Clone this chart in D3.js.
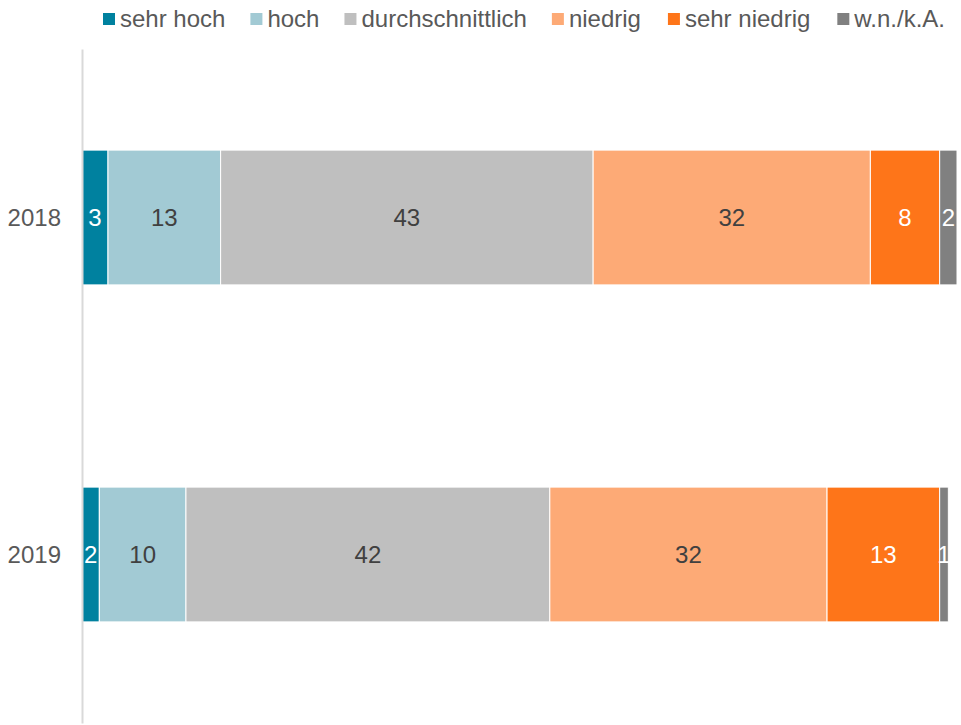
<!DOCTYPE html>
<html>
<head>
<meta charset="utf-8">
<script src="https://cdn.jsdelivr.net/npm/d3@7"></script>
<style>
html,body{margin:0;padding:0;background:#fff;}
svg{display:block;font-family:"Liberation Sans",Arial,sans-serif;}
</style>
</head>
<body>
<svg id="chart" width="961" height="725"></svg>
<script>
const years = ["2018", "2019"];
const seriesNames = ["sehr hoch", "hoch", "durchschnittlich", "niedrig", "sehr niedrig", "w.n./k.A."];
const sehrHoch = [3, 2];
const hoch = [13, 10];
const durchschnittlich = [43, 42];
const niedrig = [32, 32];
const sehrNiedrig = [8, 13];
const wnka = [2, 1];
const colors = ["#00819f", "#a2cad4", "#bfbfbf", "#fdaa76", "#fe7519", "#808080"];
const labelColors = ["#ffffff", "#404040", "#404040", "#404040", "#ffffff", "#ffffff"];

const seriesValues = [sehrHoch, hoch, durchschnittlich, niedrig, sehrNiedrig, wnka];
const rows = years.map((y, i) => {
  const r = {year: y};
  seriesNames.forEach((s, j) => r[s] = seriesValues[j][i]);
  return r;
});

const svg = d3.select("#chart");
const fontSize = 24;

const stack = d3.stack().keys(seriesNames);
const stacked = stack(rows);
const maxTotal = d3.max(rows, r => d3.sum(seriesNames, s => r[s]));

const x = d3.scaleLinear().domain([0, maxTotal]).range([82, 957]);
const y = d3.scaleBand().domain(years).range([49, 723]).paddingInner(0.6).paddingOuter(0.3);

// bars
const g = svg.append("g");
stacked.forEach((layer, j) => {
  const lg = g.append("g");
  lg.selectAll("rect").data(layer).join("rect")
    .attr("x", d => x(d[0]))
    .attr("y", d => y(d.data.year))
    .attr("width", d => x(d[1]) - x(d[0]))
    .attr("height", y.bandwidth())
    .attr("fill", colors[j])
    .attr("stroke", "#ffffff")
    .attr("stroke-width", 1);
  lg.selectAll("text").data(layer).join("text")
    .attr("x", d => (x(d[0]) + x(d[1])) / 2)
    .attr("y", d => y(d.data.year) + y.bandwidth() / 2)
    .attr("dy", "0.36em")
    .attr("text-anchor", "middle")
    .attr("font-size", fontSize)
    .attr("fill", labelColors[j])
    .text(d => d.data[seriesNames[j]]);
});

// axis
const axis = svg.append("g")
  .attr("transform", "translate(82,0)")
  .call(d3.axisLeft(y).tickSize(0).tickPadding(21).tickSizeOuter(0));
axis.select(".domain").attr("stroke", "#d9d9d9").attr("stroke-width", 2);
axis.selectAll(".tick text")
  .attr("font-size", fontSize)
  .attr("font-family", "'Liberation Sans', Arial, sans-serif")
  .attr("fill", "#595959")
  .attr("dy", "0.37em");

// legend
const legend = svg.append("g");
let lx = 103;
seriesNames.forEach((s, j) => {
  const item = legend.append("g").attr("transform", `translate(${lx},0)`);
  item.append("rect").attr("x", 0).attr("y", 13).attr("width", 12).attr("height", 12).attr("fill", colors[j]);
  const t = item.append("text").attr("x", 17).attr("y", 27)
    .attr("font-size", fontSize).attr("fill", "#595959").text(s);
  lx += 17 + t.node().getComputedTextLength() + (j >= 3 ? 27 : 25);
});
</script>
</body>
</html>
